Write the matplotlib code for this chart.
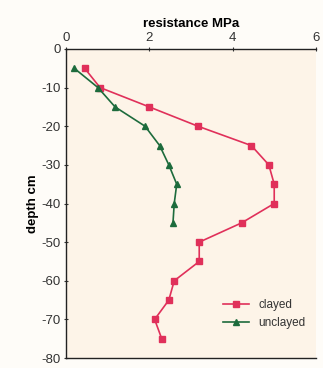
import matplotlib
matplotlib.use("Agg")
import matplotlib.pyplot as plt

plt.rcParams['font.family'] = ['Liberation Sans', 'DejaVu Sans']
plt.rcParams['axes.unicode_minus'] = False

depth_clayed = [-5, -10, -15, -20, -25, -30, -35, -40, -45, -50, -55, -60, -65, -70, -75]
res_clayed = [0.45, 0.82, 2.0, 3.17, 4.45, 4.87, 5.0, 5.0, 4.22, 3.2, 3.2, 2.6, 2.47, 2.13, 2.3]
depth_unclayed = [-5, -10, -15, -20, -25, -30, -35, -40, -45]
res_unclayed = [0.2, 0.77, 1.18, 1.9, 2.25, 2.47, 2.66, 2.6, 2.57]
xticks = [0, 2, 4, 6]
yticks = [0, -10, -20, -30, -40, -50, -60, -70, -80]

fig = plt.figure(figsize=(3.23, 3.68), dpi=100)
fig.patch.set_facecolor('#fefcf8')
ax = fig.add_axes([0.204, 0.027, 0.774, 0.840])
ax.set_facecolor('#fdf4e8')

ax.plot(res_clayed, depth_clayed, color='#e0305a', marker='s', markersize=4,
        linewidth=1.2, label='clayed')
ax.plot(res_unclayed, depth_unclayed, color='#1d6b3c', marker='^', markersize=4,
        linewidth=1.2, label='unclayed')

ax.set_xlim(0, 6)
ax.set_ylim(-80, 0)
ax.set_xticks(xticks)
ax.set_yticks(yticks)
ax.xaxis.tick_top()
ax.xaxis.set_label_position('top')
ax.set_xlabel('resistance MPa', fontsize=9.5, fontweight='bold', labelpad=4)
ax.set_ylabel('depth cm', fontsize=9.5, fontweight='bold', labelpad=2)
ax.tick_params(axis='both', labelsize=9.5, color='#333333', labelcolor='#333333',
               length=3, direction='inout', pad=2)
for s in ['right']:
    ax.spines[s].set_visible(False)
for s in ['left', 'top', 'bottom']:
    ax.spines[s].set_color('#222222')
    ax.spines[s].set_linewidth(1.0)

ax.legend(loc='lower right', frameon=False, fontsize=8.5, handlelength=2.2,
          bbox_to_anchor=(1.0, 0.06), labelcolor='#333333')

fig.savefig('out.png', dpi=100)
